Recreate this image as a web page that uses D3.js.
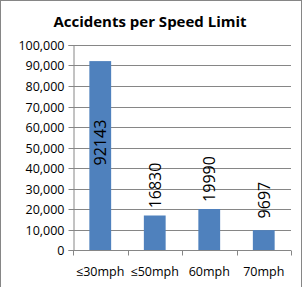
<!DOCTYPE html>
<html>
<head>
<meta charset="utf-8">
<script src="https://cdnjs.cloudflare.com/ajax/libs/d3/7.8.5/d3.min.js"></script>
<style>
	body { margin: 0; background: #fff; }
	svg text { font-family: "Open Sans", sans-serif; fill: #000; }
</style>
</head>
<body>
<div id="chart"></div>
<script>
var categories = ['\u226430mph', '\u226450mph', '60mph', '70mph'];
var values = [92143, 16830, 19990, 9697];
var yTicks = [0, 10000, 20000, 30000, 40000, 50000, 60000, 70000, 80000, 90000, 100000];
var title = 'Accidents per Speed Limit';

// chart init
function initChart() {
	var width = 303;
	var height = 287;
	var margin = { top: 45, right: 12, bottom: 37, left: 73 };
	var innerW = width - margin.left - margin.right;
	var innerH = height - margin.top - margin.bottom;

	var svg = d3.select('#chart').append('svg')
		.attr('width', width)
		.attr('height', height);

	svg.append('rect')
		.attr('x', 0.5).attr('y', 0.5)
		.attr('width', width - 2).attr('height', height + 5)
		.attr('fill', 'none')
		.attr('stroke', '#868686');

	svg.append('text')
		.attr('x', 150)
		.attr('y', 27)
		.attr('text-anchor', 'middle')
		.style('font-size', '15px')
		.style('font-weight', 'bold')
		.text(title);

	var x = d3.scaleBand().domain(categories).range([0, innerW]).paddingInner(0.6).paddingOuter(0.3);
	var xBand = d3.scaleBand().domain(categories).range([0, innerW]);
	var y = d3.scaleLinear().domain([0, 100000]).range([innerH, 0]);

	var g = svg.append('g').attr('transform', 'translate(' + margin.left + ',' + margin.top + ')');

	// grid
	g.selectAll('.grid').data(yTicks.slice(1)).enter().append('line')
		.attr('x1', 0).attr('x2', innerW)
		.attr('y1', function(d) { return Math.round(y(d)) + 0.5; })
		.attr('y2', function(d) { return Math.round(y(d)) + 0.5; })
		.attr('stroke', '#868686');

	// y axis
	var yAxis = g.append('g')
		.attr('transform', 'translate(0.5,0)')
		.call(d3.axisLeft(y).tickValues(yTicks).tickSize(5).tickPadding(4).tickFormat(d3.format(',')));
	yAxis.select('.domain').attr('stroke', '#868686');
	yAxis.selectAll('.tick line').attr('stroke', '#868686');
	yAxis.selectAll('.tick').attr('transform', function(d) { return 'translate(0,' + (Math.round(y(d)) + 0.5) + ')'; });
	yAxis.selectAll('text').style('font-size', '12.5px').attr('dy', '0.36em');

	// x axis
	var xAxis = g.append('g').attr('transform', 'translate(0,' + (Math.round(innerH) + 0.5) + ')');
	xAxis.append('line').attr('x1', 0).attr('x2', innerW).attr('stroke', '#868686');
	xAxis.selectAll('.tk').data(categories.concat(['end'])).enter().append('line')
		.attr('x1', function(d, i) { return Math.round(i * xBand.bandwidth()) + 0.5; })
		.attr('x2', function(d, i) { return Math.round(i * xBand.bandwidth()) + 0.5; })
		.attr('y1', 0).attr('y2', 5)
		.attr('stroke', '#868686');
	xAxis.selectAll('.lbl').data(categories).enter().append('text')
		.attr('x', function(d) { return xBand(d) + xBand.bandwidth() / 2; })
		.attr('y', 25)
		.attr('text-anchor', 'middle')
		.style('font-size', '12.5px')
		.text(function(d) { return d; });

	// bars
	g.selectAll('.bar').data(values).enter().append('rect')
		.attr('x', function(d, i) { return x(categories[i]); })
		.attr('y', function(d) { return y(d); })
		.attr('width', x.bandwidth())
		.attr('height', function(d) { return innerH - y(d); })
		.attr('fill', '#4F81BD');

	// labels
	g.selectAll('.label').data(values).enter().append('text')
		.attr('transform', function(d, i) {
			var cx = x(categories[i]) + x.bandwidth() / 2 + 6;
			var cy = y(d) - 6 - 24;
			if (cy - 24 < 0) {
				cy = y(d / 2) - 13;
			}
			return 'translate(' + cx + ',' + cy + ') rotate(-90)';
		})
		.attr('text-anchor', 'middle')
		.style('font-size', '16px')
		.text(function(d) { return d; });
}

initChart();
</script>
</body>
</html>
